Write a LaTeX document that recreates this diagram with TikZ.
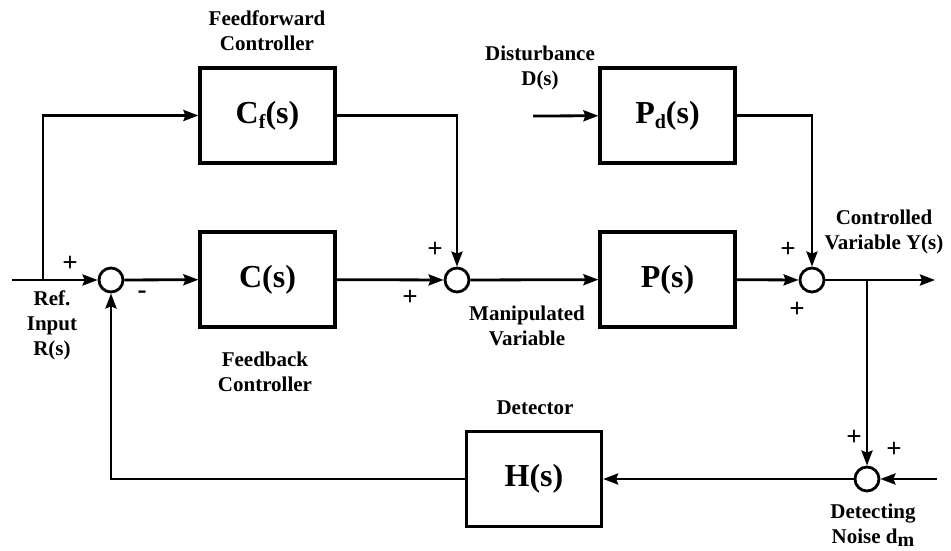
\documentclass[tikz,border=0pt]{standalone}
\usepackage{fontspec}
\setmainfont{Liberation Serif}
\usepackage{tikz}
\usetikzlibrary{arrows.meta}
\newcommand*{\lowsub}[1]{\raisebox{-0.35ex}{\fontsize{20}{20}\selectfont #1}}

\begin{document}
\begin{tikzpicture}[
   x=1pt, y=-1pt,
   blockbox/.style={rectangle, draw=black, line width=3.2, minimum width=135,
                    minimum height=95, inner sep=0, font=\fontsize{32}{32}\selectfont\bfseries},
   sumcirc/.style={circle, draw=black, fill=white, line width=2.8, minimum size=24, inner sep=0},
   lbl/.style={align=center, inner sep=0, font=\fontsize{21}{25}\selectfont\bfseries},
   sgn/.style={inner sep=0, font=\fontsize{27}{27}\selectfont\bfseries},
   sig/.style={->, >={Stealth[length=15, width=11, inset=2]}, line width=2.8}
  ]

  \useasboundingbox (0, 0) rectangle (951, 551);

  % Blocks
  \node (Cf) at (267.5, 115.5) [blockbox] {C\lowsub{f}(s)};
  \node (C) at (267.5, 279.5) [blockbox] {C(s)};
  \node (Pd) at (667.5, 115.5) [blockbox] {P\lowsub{d}(s)};
  \node (P) at (667.5, 279.5) [blockbox] {P(s)};
  \node (H) at (534, 479) [blockbox] {H(s)};

  % Summing points
  \node (S1) at (111, 280) [sumcirc] {};
  \node (S2) at (457, 280) [sumcirc] {};
  \node (S3) at (812, 280) [sumcirc] {};
  \node (S4) at (867, 479) [sumcirc] {};

  % Free ends and branch points
  \coordinate (Rin) at (12, 280);
  \coordinate (B1) at (43, 280);
  \coordinate (Din) at (533, 116);
  \coordinate (Yout) at (935, 280);
  \coordinate (B2) at (867, 280);
  \coordinate (Nin) at (937, 479);

  \draw[line width=2.8] (Rin) -- (B1);
  \foreach \B/\E in {B1/S1, S1/C, C/S2, S2/P, Din/Pd, P/S3, S3/Yout, B2/S4, Nin/S4, S4/H} {
    \draw[sig] (\B) -- (\E);
  }
  \draw[sig] (B1) |- (Cf);
  \draw[sig] (Cf) -| (S2);
  \draw[sig] (Pd) -| (S3);
  \draw[sig] (H) -| (S1);

  % Labels
  \node (ffl) at (267, 31) [lbl] {Feedforward\\Controller};
  \node (fbl) at (265, 372) [lbl] {Feedback\\Controller};
  \node (dl) at (540, 68) [lbl] {Disturbance\\D(s)};
  \node (yl) at (884, 232) [lbl] {Controlled\\Variable Y(s)};
  \node (rl) at (52, 325) [lbl] {Ref.\\Input\\R(s)};
  \node (ml) at (527, 326) [lbl] {Manipulated\\Variable};
  \node (hl) at (535, 408) [lbl] {Detector};
  \node (nl) at (873, 525) [lbl] {Detecting\\Noise d\lowsub{m}};

  % Signs
  \node (p1) at (70, 264) [sgn] {+};
  \node (m1) at (142, 295) [sgn] {-};
  \node (p2) at (435, 250) [sgn] {+};
  \node (p3) at (410, 298) [sgn] {+};
  \node (p4) at (788, 250) [sgn] {+};
  \node (p5) at (797, 310) [sgn] {+};
  \node (p6) at (854, 438) [sgn] {+};
  \node (p7) at (894, 450) [sgn] {+};

\end{tikzpicture}
\end{document}
